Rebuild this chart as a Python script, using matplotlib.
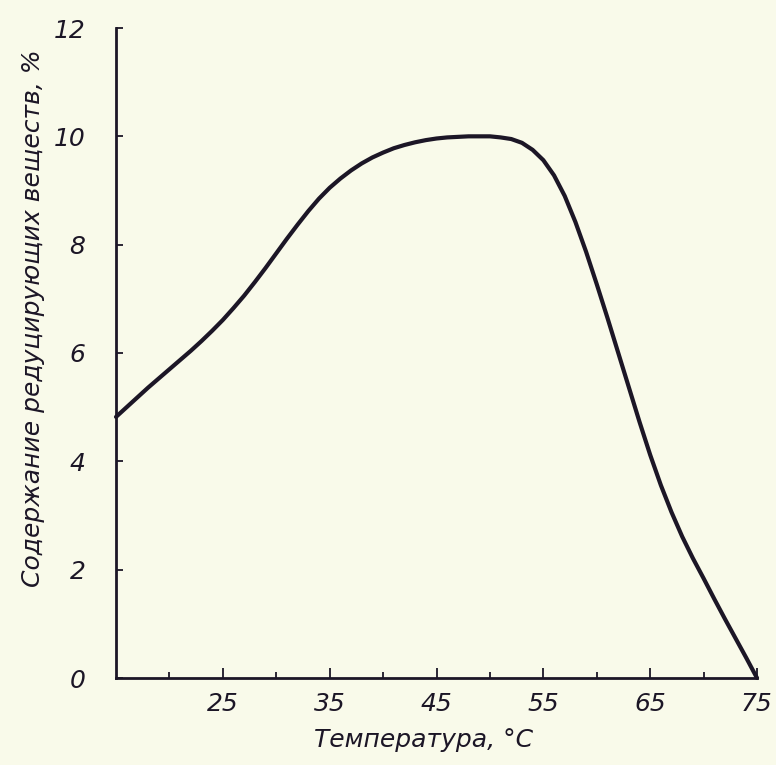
# reducing substances content vs temperature (scanned book figure)

import matplotlib.pyplot as plt
from matplotlib.ticker import FixedLocator


# data, one reading per degree
# ---

temperature = list(range(15, 76))
content = [4.82, 5.00, 5.18, 5.36, 5.53, 5.70, 5.87, 6.04, 6.22, 6.41,   # 15-24
           6.61, 6.83, 7.06, 7.31, 7.57, 7.84, 8.11, 8.37, 8.62, 8.85,   # 25-34
           9.05, 9.22, 9.37, 9.50, 9.61, 9.70, 9.78, 9.84, 9.89, 9.93,   # 35-44
           9.96, 9.98, 9.99, 10.0, 10.0, 10.0, 9.98, 9.95, 9.88, 9.75,   # 45-54
           9.56, 9.28, 8.90, 8.42, 7.87, 7.27, 6.65, 6.01, 5.37, 4.73,   # 55-64
           4.12, 3.56, 3.06, 2.61, 2.21, 1.84, 1.46, 1.09, 0.73, 0.37,   # 65-74
           0.0]                                                          # 75

x_major = [25, 35, 45, 55, 65, 75]
x_minor = [20, 30, 40, 50, 60, 70]
y_major = [0, 2, 4, 6, 8, 10, 12]

xlabel = 'Температура, °C'
ylabel = 'Содержание редуцирующих веществ, %'


# style
# ---

bg = '#f9faea'
ink = '#1c1626'
plt.rcParams['font.family'] = ['DejaVu Sans']
plt.rcParams['font.style'] = 'italic'


# plot
# ---

fig = plt.figure(figsize=(7.76, 7.65), dpi=100, facecolor=bg)
ax = fig.add_axes([116 / 776, 1 - 678 / 765, (757 - 116) / 776, (678 - 28) / 765])
ax.set_facecolor(bg)

ax.plot(temperature, content, color=ink, lw=3, solid_capstyle='round',
        solid_joinstyle='round', clip_on=False)

ax.set_xlim(15, 75)
ax.set_ylim(0, 12)

for side in ['top', 'right']:
    ax.spines[side].set_visible(False)
for side in ['left', 'bottom']:
    ax.spines[side].set_color(ink)
    ax.spines[side].set_linewidth(2)

ax.xaxis.set_major_locator(FixedLocator(x_major))
ax.xaxis.set_minor_locator(FixedLocator(x_minor))
ax.yaxis.set_major_locator(FixedLocator(y_major))

ax.tick_params(axis='x', which='major', direction='in', length=7, width=1.3,
               color=ink, labelcolor=ink, labelsize=18, pad=10)
ax.tick_params(axis='x', which='minor', direction='in', length=4, width=1.3, color=ink)
ax.tick_params(axis='y', which='major', direction='in', length=5, width=1.3,
               color=ink, labelcolor=ink, labelsize=18, pad=22)

ax.set_xlabel(xlabel, fontsize=18, color=ink, style='italic')
ax.set_ylabel(ylabel, fontsize=18, color=ink, style='italic')
ax.xaxis.set_label_coords(0.48, -0.077)
ax.yaxis.set_label_coords(-0.11, 0.554)

plt.savefig('out.png', dpi=100, facecolor=bg)
plt.close()
